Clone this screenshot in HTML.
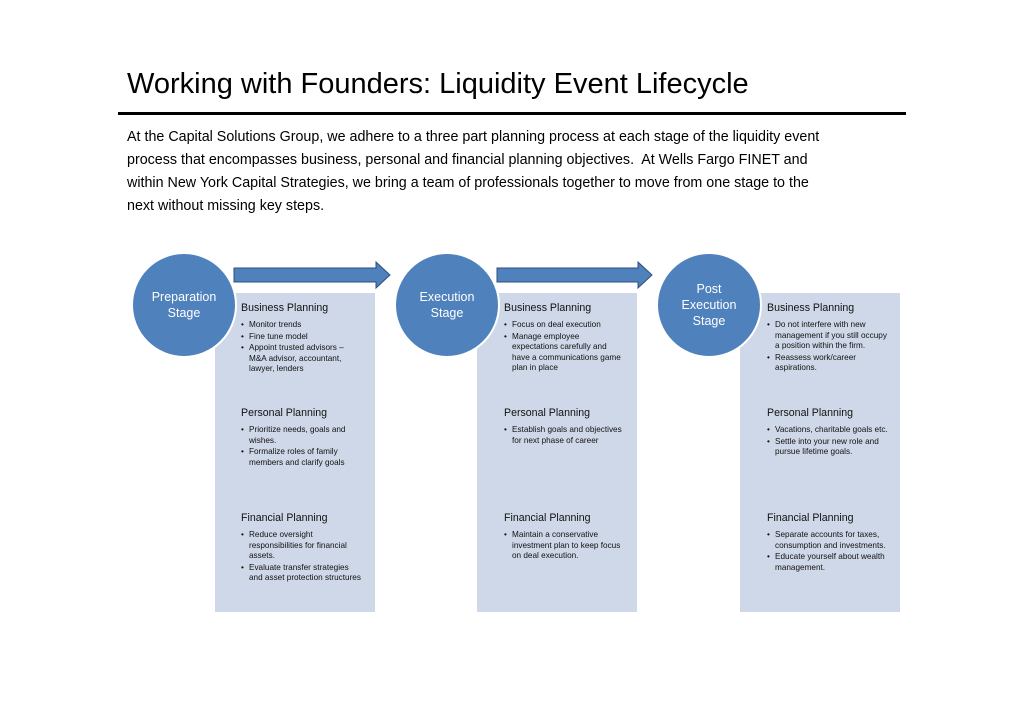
<!DOCTYPE html>
<html><head><meta charset="utf-8"><style>
body{margin:0;width:1024px;height:724px;background:#fff;position:relative;font-family:"Liberation Sans",sans-serif;overflow:hidden}
.a{position:absolute;white-space:nowrap}
.title{left:127px;top:68px;font-size:29px;color:#000}
.rule{left:118px;top:112px;width:788px;height:3px;background:#000}
.p{left:127px;font-size:14.3px;color:#000}
.box{position:absolute;top:293px;width:160px;height:319px;background:#cfd8e8}
.c{position:absolute;width:102px;height:102px;border-radius:50%;background:#4f81bd;border:2px solid #fff;color:#fff;font-size:12.5px;display:flex;align-items:center;justify-content:center;text-align:center;line-height:16px}
.h{position:absolute;font-size:10.6px;color:#111;white-space:nowrap}
ul{position:absolute;margin:0;padding:0;list-style:none;font-size:8.2px;line-height:10.6px;color:#111;width:122px}
li{padding-left:8px;text-indent:-8px;margin-bottom:1px}
li:before{content:"•";display:inline-block;width:8px;text-indent:0}
</style></head><body>
<div class="a title">Working with Founders: Liquidity Event Lifecycle</div>
<div class="a rule"></div>
<div class="a p" style="top:129px">At the Capital Solutions Group, we adhere to a three part planning process at each stage of the liquidity event</div>
<div class="a p" style="top:152px">process that encompasses business, personal and financial planning objectives.&nbsp; At Wells Fargo FINET and</div>
<div class="a p" style="top:175px">within New York Capital Strategies, we bring a team of professionals together to move from one stage to the</div>
<div class="a p" style="top:198px">next without missing key steps.</div>

<svg class="a" style="left:0;top:0" width="1024" height="724">
<polygon points="234,268 376,268 376,262 390,275 376,288 376,282 234,282" fill="#4f81bd" stroke="#2c4f7c" stroke-width="1"/>
<polygon points="497,268 638,268 638,262 652,275 638,288 638,282 497,282" fill="#4f81bd" stroke="#2c4f7c" stroke-width="1"/>
</svg>

<div class="box" style="left:215px"></div>
<div class="box" style="left:477px"></div>
<div class="box" style="left:740px"></div>

<div class="c" style="left:131px;top:252px">Preparation<br>Stage</div>
<div class="c" style="left:394px;top:252px">Execution<br>Stage</div>
<div class="c" style="left:656px;top:252px">Post<br>Execution<br>Stage</div>

<div class="h" style="left:241px;top:302px">Business Planning</div>
<ul style="left:241px;top:320px"><li>Monitor trends</li><li>Fine tune model</li><li>Appoint trusted advisors – M&amp;A advisor, accountant, lawyer, lenders</li></ul>
<div class="h" style="left:241px;top:407px">Personal Planning</div>
<ul style="left:241px;top:425px"><li>Prioritize needs, goals and wishes.</li><li>Formalize roles of family members and clarify goals</li></ul>
<div class="h" style="left:241px;top:512px">Financial Planning</div>
<ul style="left:241px;top:530px"><li>Reduce oversight responsibilities for financial assets.</li><li>Evaluate transfer strategies and asset protection structures</li></ul>

<div class="h" style="left:504px;top:302px">Business Planning</div>
<ul style="left:504px;top:320px"><li>Focus on deal execution</li><li>Manage employee expectations carefully and have a communications game plan in place</li></ul>
<div class="h" style="left:504px;top:407px">Personal Planning</div>
<ul style="left:504px;top:425px"><li>Establish goals and objectives for next phase of career</li></ul>
<div class="h" style="left:504px;top:512px">Financial Planning</div>
<ul style="left:504px;top:530px"><li>Maintain a conservative investment plan to keep focus on deal execution.</li></ul>

<div class="h" style="left:767px;top:302px">Business Planning</div>
<ul style="left:767px;top:320px"><li>Do not interfere with new management if you still occupy a position within the firm.</li><li>Reassess work/career aspirations.</li></ul>
<div class="h" style="left:767px;top:407px">Personal Planning</div>
<ul style="left:767px;top:425px"><li>Vacations, charitable goals etc.</li><li>Settle into your new role and pursue lifetime goals.</li></ul>
<div class="h" style="left:767px;top:512px">Financial Planning</div>
<ul style="left:767px;top:530px"><li>Separate accounts for taxes, consumption and investments.</li><li>Educate yourself about wealth management.</li></ul>
</body></html>
